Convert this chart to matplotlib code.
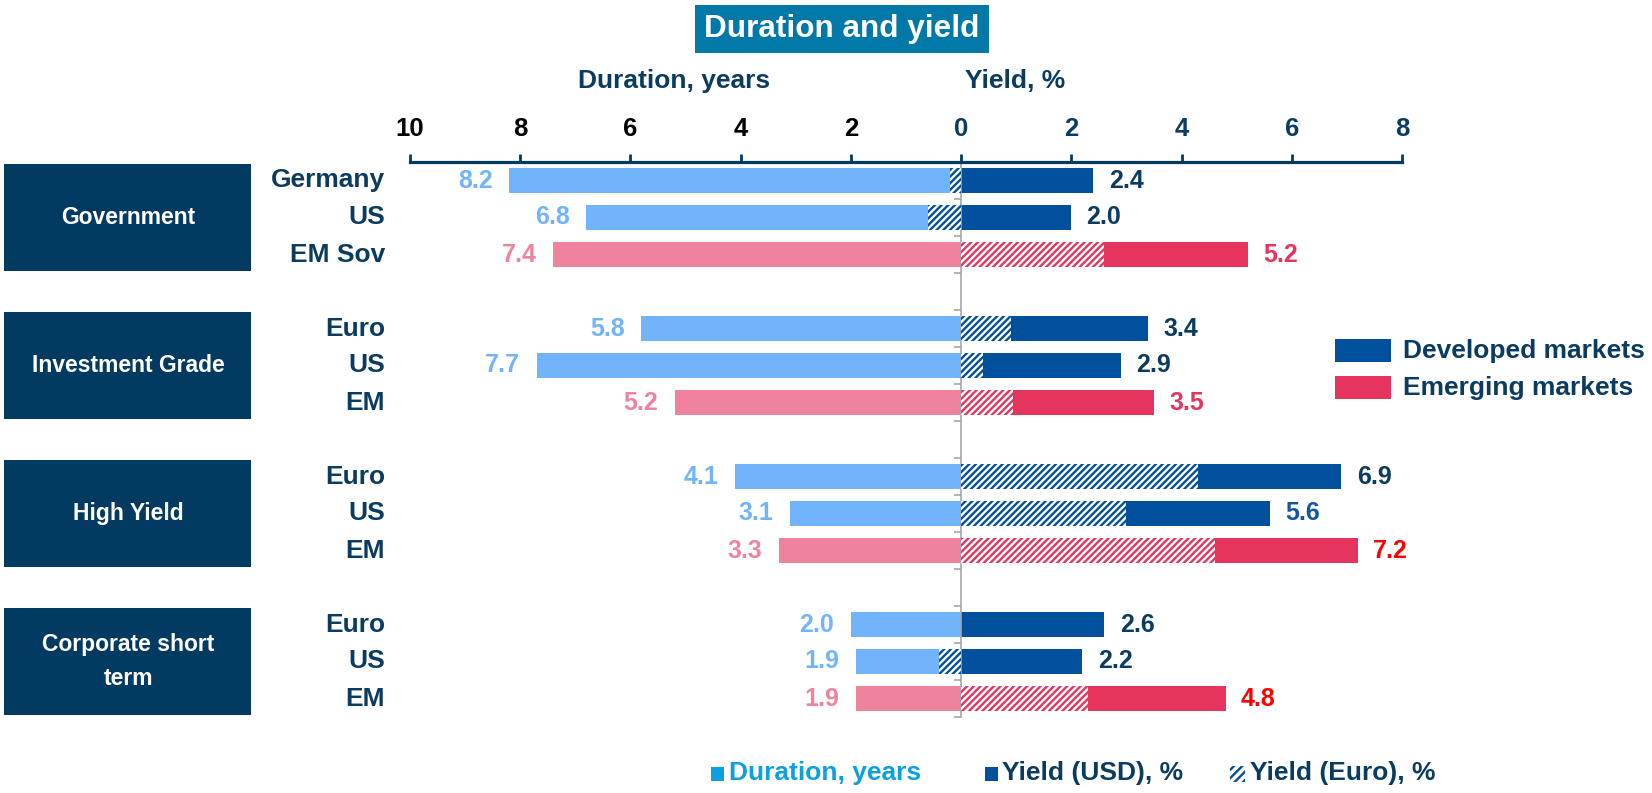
import matplotlib
matplotlib.use("Agg")
import matplotlib.pyplot as plt
from matplotlib.patches import Rectangle
from matplotlib import transforms, font_manager

plt.rcParams['font.family'] = ['Liberation Sans', 'DejaVu Sans']
plt.rcParams['font.weight'] = 'bold'
plt.rcParams['hatch.linewidth'] = 1.7

names = {f.name for f in font_manager.fontManager.ttflist}
narrow = 'Liberation Sans Narrow' if 'Liberation Sans Narrow' in names else None

# data
groups = ['Government', 'Investment Grade', 'High Yield', 'Corporate short\nterm']
rows = ['Germany', 'US', 'EM Sov', 'Euro', 'US', 'EM', 'Euro', 'US', 'EM', 'Euro', 'US', 'EM']
is_em = [False, False, True] * 4
duration = [8.2, 6.8, 7.4, 5.8, 7.7, 5.2, 4.1, 3.1, 3.3, 2.0, 1.9, 1.9]
yield_usd = [2.4, 2.0, 5.2, 3.4, 2.9, 3.5, 6.9, 5.6, 7.2, 2.6, 2.2, 4.8]
yield_eur = [-0.2, -0.6, 2.6, 0.9, 0.4, 0.95, 4.3, 3.0, 4.6, 0.0, -0.4, 2.3]

# colours
navy = '#0A3C61'
box_col = '#023A62'
dur_dm, dur_em = '#72B4FC', '#EF839D'
yld_dm, yld_em = '#00509E', '#E5345E'
yld_lbl = [navy, navy, '#E5345E', navy, navy, '#E5345E',
           navy, '#1456A2', '#FF0000', navy, navy, '#FF0000']
hatch = '/////'

W, H = 1652, 793
fig = plt.figure(figsize=(W / 100, H / 100), dpi=100)
ax = fig.add_axes([410 / W, 1 - 717 / H, 992 / W, (717 - 162) / H])

ypos = [g * 4 + i for g in range(4) for i in range(3)]
bh = 0.66

for y, d, u, e, em, lc in zip(ypos, duration, yield_usd, yield_eur, is_em, yld_lbl):
    ax.barh(y, -d, height=bh, color=dur_em if em else dur_dm, zorder=2)
    ax.barh(y, u, height=bh, color=yld_em if em else yld_dm, zorder=2)
    if e != 0:
        ax.barh(y, e, height=bh, facecolor='white', edgecolor=yld_em if em else yld_dm,
                hatch=hatch, linewidth=0, zorder=3)
    ax.annotate(f'{d:.1f}', (-d, y), xytext=(-12, 0), textcoords='offset points',
                ha='right', va='center', fontsize=18, color=dur_em if em else dur_dm)
    ax.annotate(f'{u:.1f}', (u, y), xytext=(11, 0), textcoords='offset points',
                ha='left', va='center', fontsize=18, color=lc)

ax.set_xlim(-10, 8)
ax.set_ylim(14.5, -0.5)

# top axis
ax.xaxis.tick_top()
ticks = list(range(-10, 9, 2))
ax.set_xticks(ticks)
ax.set_xticklabels([str(abs(t)) for t in ticks])
for lbl, t in zip(ax.get_xticklabels(), ticks):
    lbl.set_color('black' if t < 0 else navy)
ax.tick_params(axis='x', direction='out', length=6, width=2, color=box_col,
               labelsize=18.5, pad=9)

# centre line with small ticks
ax.spines['left'].set_position(('data', 0))
ax.spines['left'].set_color('#A3A7AD')
ax.spines['left'].set_linewidth(1.2)
ax.set_yticks([p - 0.5 for p in range(16)])
ax.tick_params(axis='y', direction='out', length=5, width=1.2, color='#A3A7AD',
               labelleft=False)
ax.spines['top'].set_color(box_col)
ax.spines['top'].set_linewidth(2.3)
for s in ['right', 'bottom']:
    ax.spines[s].set_visible(False)

# row labels and group boxes
tr = transforms.blended_transform_factory(fig.transFigure, ax.transData)
for y, name in zip(ypos, rows):
    ax.text(385 / W, y, name, transform=tr, ha='right', va='center',
            fontsize=19, color=navy)
box_kw = dict(fontsize=19, family=narrow) if narrow else dict(fontsize=16.5)
for g, name in enumerate(groups):
    c = g * 4 + 1
    ax.add_patch(Rectangle((4 / W, c - 1.45), 247 / W, 2.9, transform=tr,
                           facecolor=box_col, edgecolor='none', clip_on=False))
    ax.text(128 / W, c, name, transform=tr, ha='center', va='center',
            color='white', linespacing=1.6, **box_kw)

# title and axis titles
fig.text(842 / W, 1 - 29 / H, 'Duration and yield', ha='center', va='center',
         fontsize=22.7, color='white',
         bbox=dict(boxstyle='square,pad=0.28', facecolor='#0078A8', edgecolor='none'))
fig.text(578 / W, 1 - 81 / H, 'Duration, years', ha='left', va='center',
         fontsize=19, color=navy)
fig.text(965 / W, 1 - 81 / H, 'Yield, %', ha='left', va='center',
         fontsize=19, color=navy)

# right legend
for y0, col, txt in [(339, yld_dm, 'Developed markets'), (376, yld_em, 'Emerging markets')]:
    fig.add_artist(Rectangle((1335 / W, 1 - (y0 + 23) / H), 56 / W, 23 / H,
                             transform=fig.transFigure, facecolor=col, edgecolor='none'))
    fig.text(1403 / W, 1 - (y0 + 12) / H, txt, ha='left', va='center',
             fontsize=19, color=navy)

# bottom legend
fig.add_artist(Rectangle((711 / W, 1 - 781 / H), 13 / W, 14 / H,
                         transform=fig.transFigure, facecolor='#0BA0E0', edgecolor='none'))
fig.text(729 / W, 1 - 773 / H, 'Duration, years', ha='left', va='center',
         fontsize=19, color='#0BA0E0')
fig.add_artist(Rectangle((985 / W, 1 - 781 / H), 13 / W, 14 / H,
                         transform=fig.transFigure, facecolor=yld_dm, edgecolor='none'))
fig.text(1002 / W, 1 - 773 / H, 'Yield (USD), %', ha='left', va='center',
         fontsize=19, color=navy)
fig.add_artist(Rectangle((1230 / W, 1 - 782 / H), 15 / W, 16 / H,
                         transform=fig.transFigure, facecolor='white', edgecolor=yld_dm,
                         hatch='////', linewidth=0))
fig.text(1250 / W, 1 - 773 / H, 'Yield (Euro), %', ha='left', va='center',
         fontsize=19, color=navy)

fig.savefig('out.png', dpi=100)
